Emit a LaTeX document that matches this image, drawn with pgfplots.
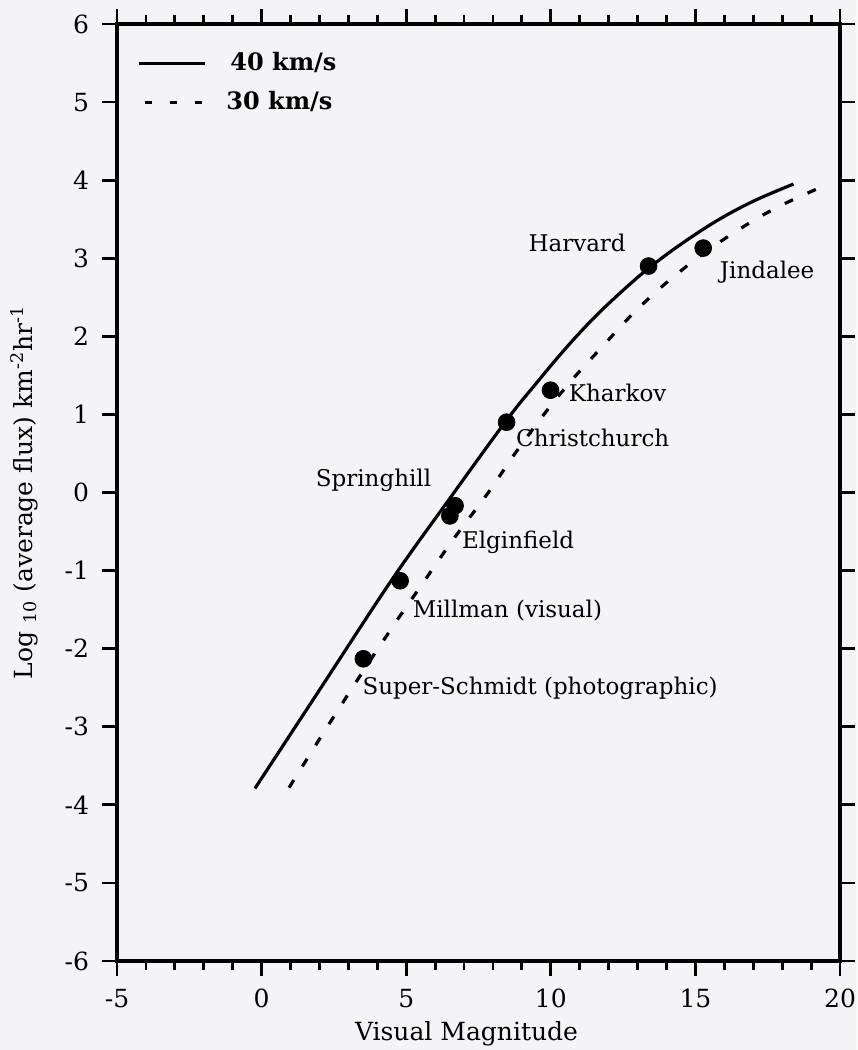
\documentclass[border=0pt]{standalone}
\usepackage{fontspec}
\setmainfont{DejaVu Serif}
\usepackage{pgfplots}
\pgfplotsset{compat=1.18}
\usetikzlibrary{calc,backgrounds}
\definecolor{paper}{RGB}{244,244,247}
\begin{document}
\begin{tikzpicture}
\begin{axis}[
  name=main,
  scale only axis, width=361.5pt, height=468.5pt,
  xmin=-5, xmax=20, ymin=-6, ymax=6,
  axis line style={line width=2pt},
  xtick={-5,0,5,10,15,20}, xticklabels={-5,0,5,10,15,20},
  minor xtick={-4,-3,...,19},
  ytick={-6,-5,...,6}, yticklabels={-6,-5,-4,-3,-2,-1,0,1,2,3,4,5,6},
  tick align=outside, major tick length=7.5pt, minor tick length=4.5pt,
  every tick/.style={black, line width=1.4pt},
  ticklabel style={font=\fontsize{12.5}{14}\selectfont},
  xticklabel style={yshift=-3pt},
  yticklabel style={xshift=-3pt},
  xlabel={Visual Magnitude},
  xlabel style={font=\fontsize{12.5}{14}\selectfont, at={(axis description cs:0.5,0)}, anchor=center, yshift=-36.5pt, xshift=-6pt},
  ylabel={Log \textsubscript{10} (average flux) km\textsuperscript{-2}hr\textsuperscript{-1}},
  ylabel style={font=\fontsize{12.5}{14}\selectfont, at={(axis description cs:0,0.5)}, anchor=center, yshift=46.5pt},
  legend style={draw=none, fill=none, at={(axis description cs:0,1)}, anchor=north west, xshift=7pt, yshift=-10pt,
    font=\bfseries\fontsize{12}{13}\selectfont, row sep=5pt,
    /tikz/every even column/.append style={column sep=0pt}},
  legend cell align=left,
]
\addplot[line width=1.6pt, smooth, tension=0.6,
  legend image code/.code={\draw[line width=1.5pt] (0pt,0pt) -- (33pt,0pt);}]
  coordinates {(-0.23,-3.79) (2,-2.53) (4.5,-1.12) (6.5,-0.08) (8.46,0.92) (9.5,1.40) (10.5,1.84) (11.5,2.24) (12.5,2.59) (13.41,2.88) (14.5,3.18) (15.74,3.48) (17.0,3.73) (18.39,3.95)};
\addlegendentry{\hspace{10pt}40 km/s}
\addplot[line width=1.6pt, smooth, tension=0.7, dash pattern=on 4.5pt off 8pt,
  legend image code/.code={\draw[line width=1.5pt, dash pattern=on 3.5pt off 9pt] (3pt,0pt) -- (33pt,0pt);}]
  coordinates {(0.95,-3.78) (2.6,-2.81) (4.33,-1.83) (5.54,-1.18) (6.63,-0.6) (7.84,0.0) (8.88,0.56) (10.32,1.26) (11.76,1.86) (13.2,2.42) (14.81,2.93) (16.43,3.35) (17.93,3.67) (19.6,3.95)};
\addlegendentry{\hspace{8pt}30 km/s}
\addplot[only marks, mark=*, mark size=4.2pt, black, forget plot]
  coordinates {(3.52,-2.13) (4.79,-1.13) (6.69,-0.17) (6.51,-0.30) (8.47,0.90) (9.99,1.31) (13.38,2.90) (15.27,3.13)};
\begin{scope}[every node/.style={font=\fontsize{11.5}{14}\selectfont, inner sep=0pt}]
\node at (axis cs:10.91,3.19) {Harvard};
\node at (axis cs:17.48,2.82) {Jindalee};
\node at (axis cs:12.31,1.28) {Kharkov};
\node at (axis cs:11.45,0.70) {Christchurch};
\node at (axis cs:3.87,0.15) {Springhill};
\node at (axis cs:8.87,-0.64) {Elginfield};
\node at (axis cs:8.50,-1.51) {Millman (visual)};
\node at (axis cs:9.63,-2.51) {Super-Schmidt (photographic)};
\end{scope}
\end{axis}
\pgfresetboundingbox
\path ($(main.south west)+(-58.5pt,-44.5pt)$) rectangle ($(main.north east)+(8.5pt,12pt)$);
\begin{scope}[on background layer]
\fill[paper] ($(main.south west)+(-58.5pt,-44.5pt)$) rectangle ($(main.north east)+(8.5pt,12pt)$);
\end{scope}
\end{tikzpicture}
\end{document}
